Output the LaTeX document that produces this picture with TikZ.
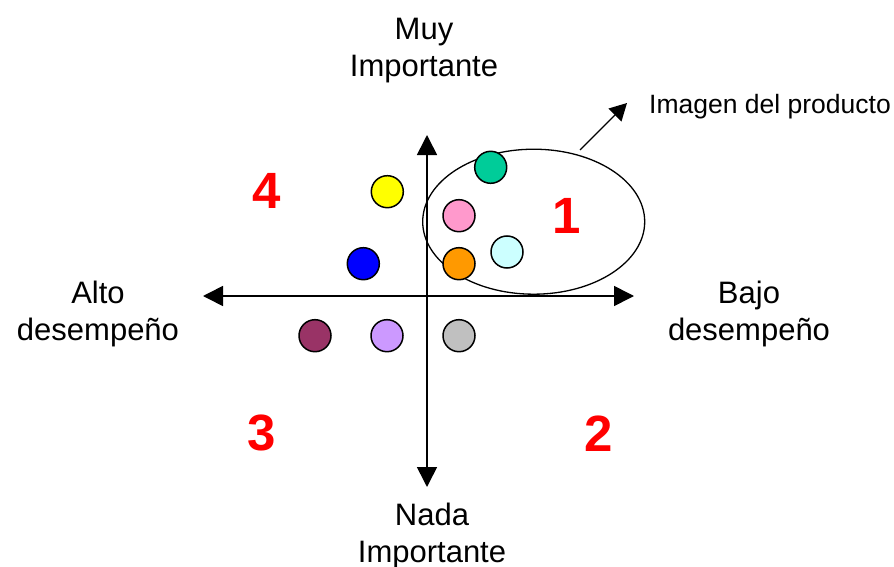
\documentclass[tikz,border=0pt]{standalone}
\usepackage{fontspec}
\setmainfont{Liberation Sans}
\usetikzlibrary{arrows.meta,shapes.geometric}

\definecolor{dotteal}{HTML}{00CC99}
\definecolor{dotyellow}{HTML}{FFFF00}
\definecolor{dotpink}{HTML}{FF99CC}
\definecolor{dotcyan}{HTML}{CCFFFF}
\definecolor{dotblue}{HTML}{0000FF}
\definecolor{dotorange}{HTML}{FF9900}
\definecolor{dotmaroon}{HTML}{993366}
\definecolor{dotlavender}{HTML}{CC99FF}
\definecolor{dotgray}{HTML}{C0C0C0}
\definecolor{quadred}{HTML}{FF0000}

\begin{document}
\begin{tikzpicture}[x=1pt,y=-1pt,
  axis/.style={line width=1.6pt,{Triangle[length=20pt,width=20pt]}-{Triangle[length=20pt,width=20pt]}},
  pointer/.style={line width=1.4pt,-{Triangle[length=17pt,width=18pt]}},
  dot/.style={circle,draw=black,line width=1.5pt,minimum size=32pt,inner sep=0pt},
  axislabel/.style={align=center,inner sep=0pt,font=\fontsize{31}{37}\selectfont},
  quadnum/.style={inner sep=0pt,text=quadred,font=\fontsize{51}{51}\selectfont\bfseries},
  group/.style={ellipse,draw=black,line width=1.3pt,minimum width=222pt,minimum height=145pt,inner sep=0pt}]

\useasboundingbox (0,0) rectangle (894,567);

% axes
\coordinate (W) at (203,296);
\coordinate (E) at (634,296);
\coordinate (N) at (427,135);
\coordinate (S) at (427,487);
\draw[axis] (W) -- (E);
\draw[axis] (N) -- (S);

% axis labels
\node[axislabel] (top)    at (424,51)    {Muy\\Importante};
\node[axislabel] (bottom) at (432,535.5) {Nada\\Importante};
\node[axislabel] (left)   at (98,313.5)  {Alto\\desempeño};
\node[axislabel] (right)  at (749,313.5) {Bajo\\desempeño};

% highlighted group and its label
\node[group] (grp) at (533.7,221.7) {};
\node[anchor=base west,inner sep=0pt,font=\fontsize{26.5}{30}\selectfont] (grplabel) at (649,114) {Imagen del producto};
\coordinate (ptrS) at (580,150);
\coordinate (ptrE) at (627,103);
\draw[pointer] (ptrS) -- (ptrE);

% quadrant numbers
\node[quadnum] (q1) at (567,215.8) {1};
\node[quadnum] (q2) at (598.3,433.3) {2};
\node[quadnum] (q3) at (261.7,433.3) {3};
\node[quadnum] (q4) at (266.7,191.3) {4};

% attributes
\node[dot,fill=dotteal]     (d1) at (490.7,167.3) {};
\node[dot,fill=dotyellow]   (d2) at (387.3,191.7) {};
\node[dot,fill=dotpink]     (d3) at (459,215.7) {};
\node[dot,fill=dotcyan]     (d4) at (507,252) {};
\node[dot,fill=dotblue]     (d5) at (363.3,263.7) {};
\node[dot,fill=dotorange]   (d6) at (459,263.7) {};
\node[dot,fill=dotmaroon]   (d7) at (315,335.7) {};
\node[dot,fill=dotlavender] (d8) at (387,335.7) {};
\node[dot,fill=dotgray]     (d9) at (459,335.7) {};
\end{tikzpicture}
\end{document}
